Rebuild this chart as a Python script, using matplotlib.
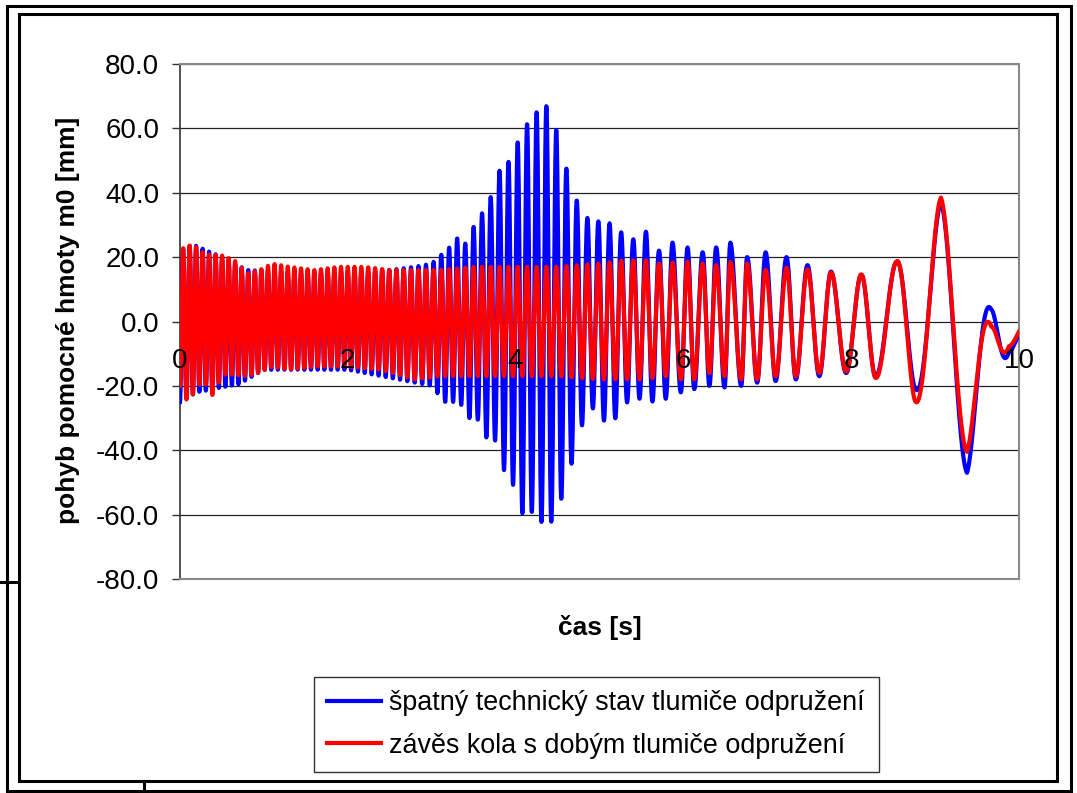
import numpy as np
import matplotlib
matplotlib.use("Agg")
import matplotlib.pyplot as plt
from matplotlib.lines import Line2D
from matplotlib.patches import Rectangle
from matplotlib.ticker import FormatStrFormatter
from matplotlib.transforms import offset_copy

plt.rcParams['font.family'] = ['Liberation Sans', 'DejaVu Sans']

freq_t = [0.0, 2.0, 3.0, 3.5, 4.1, 4.6, 5.1, 5.6, 5.71]
freq_hz = [13.0, 12.5, 11.0, 10.0, 8.9, 8.2, 7.4, 6.4, 6.3]

# readable peak / trough times of the tail, alternating, first one is a peak
ext_t = [5.71, 5.79, 5.87, 5.97, 6.05, 6.13, 6.23, 6.31, 6.39, 6.49, 6.56,
         6.69, 6.76, 6.88, 6.98, 7.10, 7.23, 7.34, 7.48, 7.62, 7.76, 7.94,
         8.12, 8.29, 8.54, 8.77, 9.07, 9.38, 9.67, 9.88, 10.1]

# blue series - upper / lower envelope (mm)
blue_up_t = [0.0, 0.15, 0.5, 0.8, 1.5, 2.5, 2.8, 3.0, 3.21, 3.31, 3.41, 3.51,
             3.61, 3.71, 3.81, 3.93, 4.03, 4.15, 4.25, 4.37, 4.48, 4.60, 4.72,
             4.86, 5.00, 5.12, 5.24, 5.40, 5.56, 5.71, 5.87, 6.05, 6.23, 6.39,
             6.56, 6.76, 6.98, 7.23, 7.48, 7.76, 8.12, 8.54, 9.07, 9.67, 10.1]
blue_up_v = [22, 24, 20, 16, 15, 16, 17, 18, 23, 26, 24, 30, 34, 39, 47, 50,
             56, 62, 65, 67, 60, 48, 38, 32, 31, 30.5, 28, 25.5, 28, 22, 24.5,
             23, 21.5, 23, 24.5, 20, 21.5, 20, 17.5, 15.5, 14.5, 18.5, 37, 3.7, -2]
blue_lo_t = [0.0, 0.2, 0.7, 1.0, 2.0, 2.8, 3.0, 3.15, 3.33, 3.45, 3.55, 3.67,
             3.77, 3.87, 3.99, 4.09, 4.21, 4.33, 4.45, 4.56, 4.68, 4.80, 4.92,
             5.06, 5.20, 5.36, 5.52, 5.65, 5.79, 5.97, 6.13, 6.31, 6.49, 6.69,
             6.88, 7.10, 7.34, 7.62, 7.94, 8.29, 8.77, 9.38, 9.88, 10.1]
blue_lo_v = [-25, -22, -19.5, -15, -15, -19, -20, -25, -25, -30, -30.5, -37,
             -37, -47, -51.5, -60.5, -59, -63, -62, -54, -43, -31.5, -27, -31,
             -30, -24, -24, -25, -24, -22, -21, -20, -20.5, -20, -19, -18.5,
             -18, -17, -16, -17, -21, -47, -9.6, -7]

# red series - upper / lower envelope (mm)
red_up_t = [0.0, 0.05, 0.15, 0.3, 0.5, 0.65, 0.8, 0.95, 1.1, 1.3, 1.6, 1.9,
            2.2, 2.5, 2.8, 3.1, 3.5, 4.0, 4.5, 5.0, 5.3, 5.56, 5.71, 5.87, 6.05,
            6.23, 6.39, 6.56, 6.76, 6.98, 7.23, 7.48, 7.76, 8.12, 8.54, 9.07,
            9.67, 10.1]
red_up_v = [22, 23, 24, 21, 20.5, 19, 15, 16, 18, 17, 16, 17, 17, 16, 16, 16,
            17, 17, 17, 18, 19, 19, 18, 18.3, 18.6, 18, 17.5, 18.5, 18, 16,
            16.7, 16.2, 15.2, 14.6, 18.6, 38.5, -1.6, 0]
red_lo_t = [0.0, 0.04, 0.16, 0.27, 0.39, 0.51, 0.63, 0.8, 0.93, 1.1, 1.3, 1.6,
            2.0, 2.4, 2.8, 3.1, 3.5, 4.0, 4.5, 5.0, 5.5, 5.79, 5.97, 6.13, 6.31,
            6.49, 6.69, 6.88, 7.10, 7.34, 7.62, 7.94, 8.29, 8.77, 9.38, 9.88, 10.1]
red_lo_v = [-20, -25, -22.5, -18, -23, -16.5, -16.5, -17, -16, -14, -15, -14,
            -14, -15, -18, -17, -17, -17, -17, -18, -18, -17, -18, -18, -16, -17,
            -18, -18, -17, -17, -16, -15.5, -17.5, -25, -40.5, -7.7, -6]

labels = ['špatný technický stav tlumiče odpružení',
          'závěs kola s dobým tlumiče odpružení']
x_ticks = [0, 2, 4, 6, 8, 10]
y_ticks = [-80, -60, -40, -20, 0, 20, 40, 60, 80]

# time axis and common phase of the oscillation
t = np.linspace(0, 10, 5001)
f = np.interp(t, freq_t, freq_hz)
cyc = np.concatenate([[0.0], np.cumsum((f[1:] + f[:-1]) / 2 * np.diff(t))])
phase = 2 * np.pi * (cyc - np.interp(ext_t[0], t, cyc))
tail = t >= ext_t[0]
phase[tail] = np.interp(t[tail], ext_t, np.pi * np.arange(len(ext_t)))


def build(up_t, up_v, lo_t, lo_v):
    up = np.interp(t, up_t, up_v)
    lo = np.interp(t, lo_t, lo_v)
    return (up + lo) / 2 + (up - lo) / 2 * np.cos(phase)


blue = build(blue_up_t, blue_up_v, blue_lo_t, blue_lo_v)
red = build(red_up_t, red_up_v, red_lo_t, red_lo_v)

W, H = 1077, 793
fig = plt.figure(figsize=(W / 100, H / 100), dpi=100)
ax = fig.add_axes([180 / W, 1 - 579 / H, 839 / W, 515 / H])

ax.plot(t, blue, color='#0000ff', lw=3.0, zorder=3)
ax.plot(t, red, color='#ff0000', lw=3.0, zorder=4)

ax.set_xlim(0, 10)
ax.set_ylim(-80, 80)
ax.set_yticks(y_ticks)
ax.yaxis.set_major_formatter(FormatStrFormatter('%.1f'))
ax.yaxis.grid(True, color='#222222', lw=0.9)
ax.set_axisbelow(True)
ax.tick_params(axis='y', length=6, width=1, pad=9, labelsize=20, color='#333333')
ax.set_xticks([])
for s in ['top', 'right', 'bottom']:
    ax.spines[s].set_color('#888888')
    ax.spines[s].set_linewidth(1.5)
ax.spines['left'].set_color('#333333')
ax.spines['left'].set_linewidth(1.2)

# category labels sit under the zero line like in Excel, drawn over the data
below_zero = offset_copy(ax.transData, fig=fig, y=-40, units='dots')
for xt in x_ticks:
    ax.text(xt, 0, str(xt), transform=below_zero, ha='center', va='center',
            fontsize=20, zorder=10, clip_on=False)

fig.text(68 / W, 1 - 320 / H, 'pohyb pomocné hmoty m0 [mm]', rotation=90,
         ha='center', va='center', fontsize=19, fontweight='bold')
fig.text(600 / W, 1 - 627 / H, 'čas [s]', ha='center', va='center',
         fontsize=19, fontweight='bold')

handles = [Line2D([], [], color='#0000ff', lw=3),
           Line2D([], [], color='#ff0000', lw=3)]
leg = fig.legend(handles, labels, loc='upper left',
                 bbox_to_anchor=(314 / W, 1 - 677 / H), fontsize=19.4,
                 frameon=True, fancybox=False, edgecolor='black',
                 handlelength=2.0, handletextpad=0.3, borderpad=0.5,
                 labelspacing=0.6, borderaxespad=0)
leg.get_frame().set_linewidth(1.0)

# double frame of the chart object
for x0, y0, x1, y1 in [(7, 6, 1071, 791), (19, 14, 1057, 781)]:
    fig.add_artist(Rectangle((x0 / W, 1 - y1 / H), (x1 - x0) / W, (y1 - y0) / H,
                             transform=fig.transFigure, fill=False,
                             ec='black', lw=2.2))
fig.add_artist(Line2D([0, 19 / W], [1 - 582 / H] * 2, color='black', lw=2.2,
                      transform=fig.transFigure))
fig.add_artist(Line2D([144 / W] * 2, [0, 1 - 781 / H], color='black', lw=2.2,
                      transform=fig.transFigure))

fig.savefig('out.png', dpi=100)
